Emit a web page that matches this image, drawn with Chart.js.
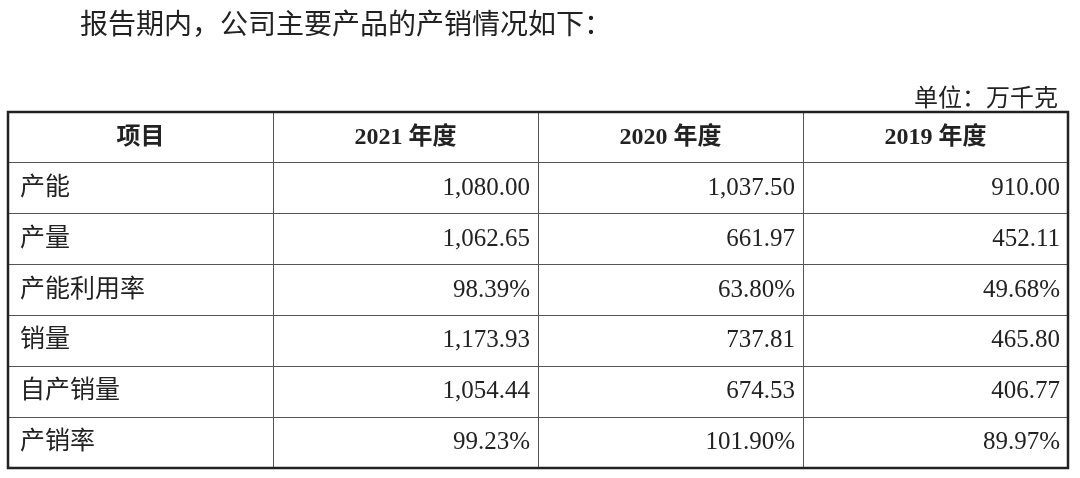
<!DOCTYPE html>
<html>
<head>
<meta charset="utf-8">
<script src="https://cdn.jsdelivr.net/npm/chart.js@4"></script>
<style>
  body { margin: 0; background: #fff; }
  #wrap { position: relative; width: 1080px; height: 478px; }
  .txt { position: absolute; font-family: "Liberation Serif", "Noto Sans CJK SC", serif; color: #222; }
  #title { left: 80px; top: 2px; font-size: 28px; }
  #unit { right: 22px; top: 78px; font-size: 24px; }
  canvas { position: absolute; left: 0; top: 0; }
</style>
</head>
<body>
<div id="wrap">
  <canvas id="tbl" width="1080" height="478"></canvas>
  <div class="txt" id="title">报告期内，公司主要产品的产销情况如下：</div>
  <div class="txt" id="unit">单位：万千克</div>
</div>
<script>
// table data
const columns = ["项目", "2021 年度", "2020 年度", "2019 年度"];
const items = ["产能", "产量", "产能利用率", "销量", "自产销量", "产销率"];
const y2021 = ["1,080.00", "1,062.65", "98.39%", "1,173.93", "1,054.44", "99.23%"];
const y2020 = ["1,037.50", "661.97", "63.80%", "737.81", "674.53", "101.90%"];
const y2019 = ["910.00", "452.11", "49.68%", "465.80", "406.77", "89.97%"];

const rows = ["header"].concat(items);
const values = [y2021, y2020, y2019];
const font = '"Liberation Serif", "Noto Sans CJK SC", serif';

// draw cell text at the positions given by the category scales
const cellText = {
  id: "cellText",
  afterDraw(chart) {
    const ctx = chart.ctx;
    const xs = chart.scales.x, ys = chart.scales.y;
    const half = xs.width / columns.length / 2;
    ctx.save();
    ctx.fillStyle = "#222";
    ctx.textBaseline = "middle";
    // header
    ctx.font = "bold 24px " + font;
    ctx.textAlign = "center";
    columns.forEach((c, i) => ctx.fillText(c, xs.getPixelForValue(i), ys.getPixelForValue(0)));
    // body
    ctx.font = "25px " + font;
    items.forEach((it, r) => {
      const y = ys.getPixelForValue(r + 1);
      ctx.textAlign = "left";
      ctx.fillText(it, xs.getPixelForValue(0) - half + 12, y);
      ctx.textAlign = "right";
      values.forEach((col, c) => ctx.fillText(col[r], xs.getPixelForValue(c + 1) + half - 8, y));
    });
    // outer border
    const a = chart.chartArea;
    ctx.strokeStyle = "#222";
    ctx.lineWidth = 2.5;
    ctx.strokeRect(a.left, a.top, a.right - a.left, a.bottom - a.top);
    ctx.restore();
  }
};

new Chart(document.getElementById("tbl"), {
  type: "bar",
  data: { labels: columns, datasets: [{ data: [] }] },
  options: {
    responsive: false,
    animation: false,
    layout: { padding: { left: 8, right: 12, top: 112, bottom: 10 } },
    plugins: { legend: { display: false }, tooltip: { enabled: false } },
    scales: {
      x: {
        type: "category", labels: columns, offset: true,
        ticks: { display: false },
        grid: { offset: true, color: "#555", lineWidth: 1, drawTicks: false },
        border: { display: false }
      },
      y: {
        type: "category", labels: rows, offset: true,
        ticks: { display: false },
        grid: { offset: true, color: "#555", lineWidth: 1, drawTicks: false },
        border: { display: false }
      }
    }
  },
  plugins: [cellText]
});
</script>
</body>
</html>
